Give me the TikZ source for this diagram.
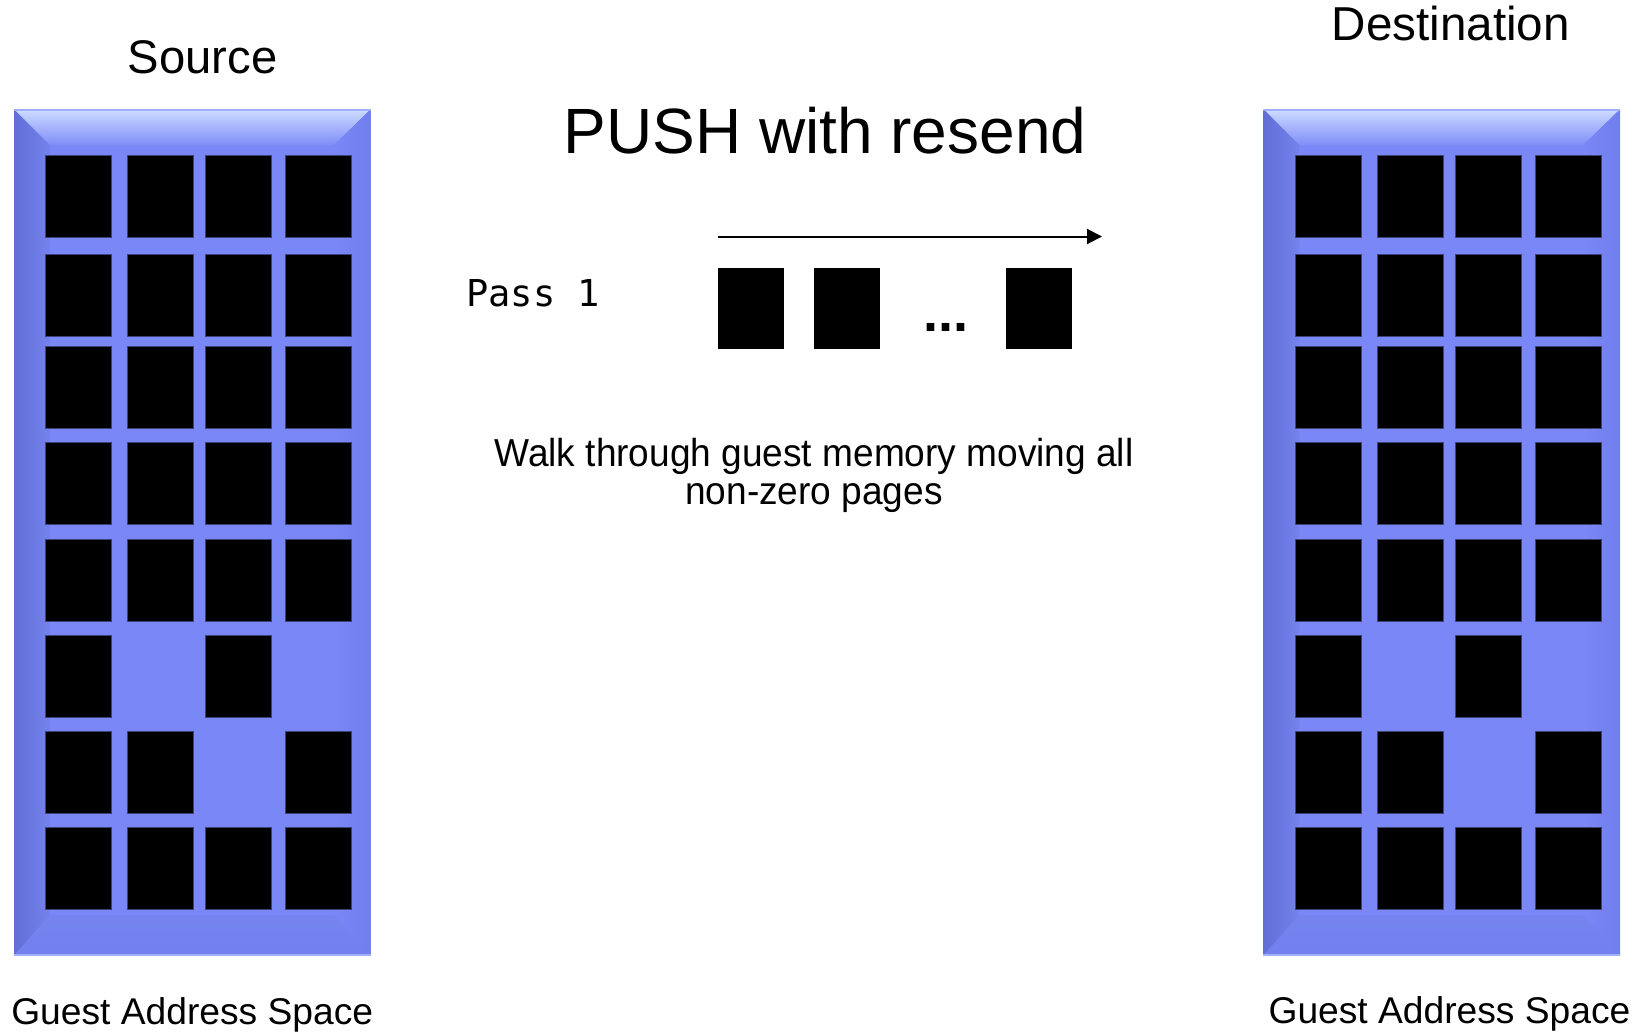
\documentclass[tikz,border=0pt]{standalone}
\usepackage{fontspec}
\setmainfont{Liberation Sans}
\newfontfamily\passfont{DejaVu Sans Mono}
\newfontfamily\narrowfont[FakeStretch=0.95]{Liberation Sans}
\usetikzlibrary{arrows.meta}

% panel colours
\definecolor{panelbase}{RGB}{122,136,247}
\definecolor{paneltop}{RGB}{205,220,255}
\definecolor{panelleft}{RGB}{96,110,214}
\definecolor{panelright}{RGB}{112,126,238}
\definecolor{panelbottom}{RGB}{114,128,238}
\definecolor{panelhi}{RGB}{160,175,255}
\definecolor{pageedge}{RGB}{62,66,120}

\tikzset{
  page/.style={fill=black, draw=pageedge, line width=0.5pt},
  passpage/.style={fill=black},
  label/.style={inner sep=0pt, anchor=base},
  % a guest address space: bevelled block holding a grid of pages
  mempanel/.pic={
    \def\W{356.7}\def\H{846}
    \fill[panelbase] (0,0) rectangle (\W,\H);
    \shade[top color=paneltop, bottom color=panelbase!95!paneltop]
      (0,0) -- (\W,0) -- (\W-37,36) -- (36,36) -- cycle;
    \shade[left color=panelleft, right color=panelbase!96!black]
      (0,0) -- (36,36) -- (36,\H-40) -- (0,\H) -- cycle;
    \shade[left color=panelbase, right color=panelright]
      (\W,0) -- (\W,\H) -- (\W-37,\H-40) -- (\W-37,36) -- cycle;
    \shade[top color=panelbase!97!black, bottom color=panelbottom]
      (0,\H) -- (36,\H-40) -- (\W-37,\H-40) -- (\W,\H) -- cycle;
    \draw[panelhi, line width=1pt] (0,0.5) -- (\W,0.5);
    \draw[panelhi, line width=1pt] (0,\H-0.5) -- (\W,\H-0.5);
    \foreach \ty/\cs in {46/{31.7,113.7,191.7,271.7},
                         145.2/{31.7,113.7,191.7,271.7},
                         237.1/{31.7,113.7,191.7,271.7},
                         333.4/{31.7,113.7,191.7,271.7},
                         429.7/{31.7,113.7,191.7,271.7},
                         526/{31.7,191.7},
                         622/{31.7,113.7,271.7},
                         718/{31.7,113.7,191.7,271.7}}{
      \foreach \cx in \cs {
        \draw[page] (\cx,\ty) rectangle ++(66,82);
      }
    }
  }
}

\begin{document}
\begin{tikzpicture}[x=0.5pt, y=-0.5pt]
  \useasboundingbox (0,0) rectangle (1641,1035);

  % source and destination memory
  \pic at (14,109.3) {mempanel};
  \pic at (1263.3,109.3) {mempanel};

  \node[label, font=\fontsize{23.6}{27}\selectfont] (src) at (202.5,73) {Source};
  \node[label, font=\fontsize{23.8}{27}\selectfont] (dst) at (1450.8,40) {Destination};
  \node[label, font=\fontsize{18.6}{22}\selectfont] (gas1) at (192.2,1024.5) {Guest Address Space};
  \node[label, font=\fontsize{18.6}{22}\selectfont] (gas2) at (1449.5,1023) {Guest Address Space};

  % title
  \node[label, font=\fontsize{32}{38}\selectfont] (title) at (825,153) {PUSH with resend};

  % first pass over the pages
  \node[label, anchor=base west, font=\passfont\fontsize{18.5}{21}\selectfont] (pass) at (466,306.7) {Pass 1};
  \coordinate (arrowstart) at (718,236.5);
  \coordinate (arrowend) at (1102,236.5);
  \draw[line width=1pt, -{Triangle[length=7.5pt,width=7.5pt]}] (arrowstart) -- (arrowend);
  \fill[passpage] (718,268) rectangle (784,349);
  \fill[passpage] (814,268) rectangle (880,349);
  \fill[passpage] (1006,268) rectangle (1072,349);
  \node[label, font=\bfseries\fontsize{27}{30}\selectfont] (dots) at (945.5,331) {...};

  % explanation
  \node[label, font=\narrowfont\fontsize{19.5}{23}\selectfont] (walk1) at (814,466.5) {Walk through guest memory moving all};
  \node[label, font=\narrowfont\fontsize{19.5}{23}\selectfont] (walk2) at (814,504) {non-zero pages};
\end{tikzpicture}
\end{document}
